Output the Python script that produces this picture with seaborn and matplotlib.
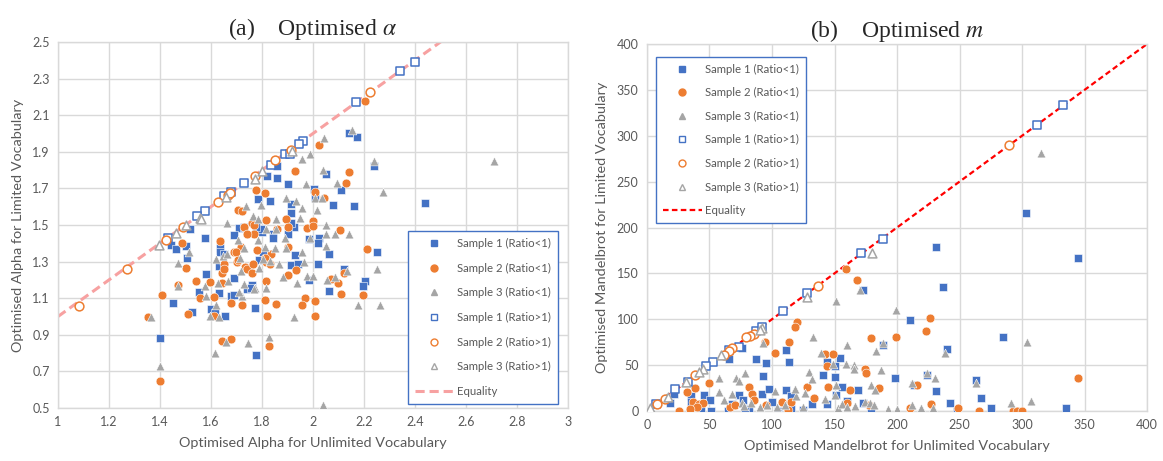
import matplotlib
matplotlib.use("Agg")
import matplotlib.pyplot as plt
import seaborn as sns
import numpy as np
from matplotlib.lines import Line2D

# ---------------- data: panel (a) Optimised alpha ----------------
a_s1_hi_x = [2.40, 2.34, 2.17, 1.96, 1.945, 1.89, 1.91, 1.836, 1.73, 1.68, 1.65, 1.578, 1.546, 1.43]
a_s1_hi_y = [2.39, 2.34, 2.17, 1.96, 1.94, 1.89, 1.89, 1.83, 1.73, 1.68, 1.66, 1.576, 1.55, 1.43]
a_s2_hi_x = [1.083, 1.27, 1.425, 1.49, 1.628, 1.666, 1.675, 1.774, 1.852, 1.913, 2.224]
a_s2_hi_y = [1.058, 1.26, 1.42, 1.49, 1.624, 1.664, 1.672, 1.77, 1.853, 1.91, 2.225]
a_s3_hi_x = [1.396, 1.464, 1.50, 1.556, 1.56, 1.66, 1.774, 1.80, 1.916]
a_s3_hi_y = [1.39, 1.458, 1.50, 1.54, 1.53, 1.655, 1.75, 1.795, 1.904]

a_s1_lo_x = [2.14, 2.174, 2.238, 2.05, 1.86, 1.82, 1.858, 1.90, 2.003, 2.008, 2.11, 2.08, 2.161, 2.441,
             1.785, 1.83, 1.914, 1.913, 1.926, 1.914, 1.90, 1.845, 1.843, 1.80, 1.795, 1.778, 1.708,
             1.69, 1.73, 1.984, 2.023, 2.02, 1.518, 1.577, 1.443, 1.464, 1.50, 1.505, 1.636, 1.637,
             1.631, 1.805, 1.788, 1.929, 1.914, 1.94, 2.02, 2.064, 2.123, 2.25, 2.205, 2.195, 2.062,
             1.985, 1.692, 1.762, 1.74, 1.756, 1.68, 1.69, 1.582, 1.553, 1.63, 1.451, 1.527, 1.60,
             1.653, 1.774, 1.40, 1.775, 1.614, 1.65]
a_s1_lo_y = [2.00, 1.98, 1.82, 1.78, 1.82, 1.765, 1.756, 1.725, 1.695, 1.65, 1.69, 1.61, 1.604, 1.622,
             1.64, 1.63, 1.613, 1.564, 1.49, 1.513, 1.45, 1.45, 1.43, 1.46, 1.48, 1.49, 1.485,
             1.447, 1.49, 1.425, 1.43, 1.40, 1.48, 1.427, 1.39, 1.37, 1.385, 1.32, 1.376, 1.35,
             1.276, 1.35, 1.31, 1.334, 1.282, 1.285, 1.285, 1.34, 1.258, 1.35, 1.195, 1.164, 1.138,
             1.20, 1.21, 1.173, 1.149, 1.156, 1.113, 1.118, 1.233, 1.136, 1.131, 1.073, 1.022, 1.04,
             1.00, 1.044, 0.884, 0.789, 1.02, 1.34]

a_s2_lo_x = [2.203, 2.022, 1.929, 2.14, 2.128, 1.775, 1.81, 2.006, 2.044, 1.704, 1.72, 1.817, 1.894,
             2.0, 1.977, 2.0, 1.90, 1.73, 1.76, 1.77, 1.768, 1.74, 2.107, 1.858, 1.636, 1.485, 1.717,
             1.782, 1.90, 1.69, 1.698, 1.70, 1.705, 1.65, 1.643, 1.65, 1.733, 1.74, 1.76, 1.766,
             1.836, 1.817, 1.81, 1.833, 1.933, 1.90, 1.50, 1.541, 1.595, 1.643, 1.817, 2.097, 2.07,
             2.12, 2.212, 1.472, 1.406, 1.557, 1.611, 1.68, 1.72, 1.81, 1.856, 1.968, 1.957, 2.009,
             2.11, 2.196, 1.353, 1.51, 1.61, 1.82, 2.009, 1.642, 1.68, 1.827, 1.40]
a_s2_lo_y = [2.18, 1.935, 1.795, 1.79, 1.73, 1.69, 1.676, 1.68, 1.65, 1.584, 1.575, 1.525, 1.53,
             1.52, 1.485, 1.495, 1.487, 1.49, 1.51, 1.50, 1.453, 1.45, 1.47, 1.476, 1.41, 1.40, 1.38,
             1.364, 1.382, 1.35, 1.35, 1.295, 1.31, 1.285, 1.24, 1.262, 1.273, 1.262, 1.24, 1.285,
             1.34, 1.295, 1.32, 1.285, 1.255, 1.225, 1.264, 1.196, 1.19, 1.185, 1.195, 1.185, 1.204,
             1.24, 1.37, 1.173, 1.12, 1.10, 1.104, 1.076, 1.064, 1.09, 1.069, 1.10, 1.064, 1.082,
             1.122, 1.116, 0.998, 1.014, 1.0, 1.0, 1.0, 0.867, 0.875, 0.838, 0.649]

a_s3_lo_x = [2.152, 2.045, 1.955, 1.99, 2.238, 2.711, 2.04, 2.093, 1.972, 2.276, 2.006, 2.036, 1.894,
             1.933, 1.955, 2.015, 1.797, 1.737, 1.663, 1.765, 1.785, 1.853, 1.948, 2.049, 2.049, 2.087,
             2.14, 1.988, 1.89, 1.856, 1.817, 1.785, 1.705, 1.81, 1.73, 1.85, 1.893, 2.049, 1.515,
             1.618, 1.646, 1.662, 1.715, 1.802, 1.832, 1.866, 1.958, 1.964, 1.469, 1.718, 1.788, 1.882,
             1.936, 1.977, 2.0, 2.054, 2.086, 2.134, 2.25, 1.665, 1.73, 1.774, 1.817, 1.628, 1.578,
             1.472, 1.582, 1.618, 1.72, 1.77, 1.71, 1.364, 1.595, 1.631, 1.926, 2.176, 2.261, 1.829,
             1.657, 1.746, 1.614, 1.40, 2.038]
a_s3_lo_y = [2.02, 1.976, 1.862, 1.89, 1.85, 1.847, 1.80, 1.73, 1.725, 1.68, 1.65, 1.645, 1.647,
             1.63, 1.595, 1.58, 1.607, 1.604, 1.51, 1.55, 1.535, 1.535, 1.538, 1.498, 1.45, 1.45,
             1.45, 1.43, 1.43, 1.476, 1.476, 1.42, 1.42, 1.38, 1.376, 1.376, 1.376, 1.385, 1.35,
             1.316, 1.33, 1.34, 1.32, 1.316, 1.304, 1.285, 1.35, 1.30, 1.294, 1.25, 1.267, 1.213,
             1.185, 1.222, 1.222, 1.198, 1.213, 1.25, 1.262, 1.195, 1.176, 1.158, 1.158, 1.185, 1.164,
             1.164, 1.113, 1.064, 1.113, 1.15, 1.133, 0.998, 1.004, 0.995, 0.998, 1.064, 1.064, 0.887,
             0.858, 0.855, 0.80, 0.731, 0.518]

eq_a = [1.0, 3.0]

# ---------------- data: panel (b) Optimised m ----------------
m_s1_hi_x = [333, 312, 189, 171.5, 127.6, 108.6, 87, 92, 74, 66, 53, 47.5, 32.6, 22.8, 7.4]
m_s1_hi_y = [334, 312, 188, 172, 128.6, 109.4, 87.7, 91, 69.6, 66.7, 53, 48.5, 31.5, 24.3, 8]
m_s2_hi_x = [289.3, 137, 85.5, 82.5, 79.2, 68.2, 65.3, 61.4, 38.6, 14.2, 8.3]
m_s2_hi_y = [289.9, 136.6, 84, 82, 80.4, 68.5, 64.9, 61.2, 38.8, 13.4, 8]
m_s3_hi_x = [180, 128, 92, 90.5, 59.3, 44.5, 42, 31, 17, 2.4]
m_s3_hi_y = [172, 124.6, 90.6, 88.4, 60.5, 46, 42.4, 31.5, 15.2, 3.3]

m_s1_lo_x = [303, 231, 344.5, 237, 172.7, 210, 285, 189, 240, 111, 66, 87.5, 95, 113.6, 154, 144, 150,
             75.7, 92.6, 141, 150, 198, 224, 263.5, 156, 168.5, 213.6, 231, 267, 242.7, 275, 335, 248,
             22, 18.7, 35, 35.6, 46, 50.4, 51, 43, 65, 68, 74, 77, 82, 92, 98, 100, 104.5, 111, 115,
             115, 125, 132, 144, 151, 160, 173, 179.5, 78.6]
m_s1_lo_y = [215.6, 179, 167, 135.5, 132, 99, 81, 72, 67.4, 66, 56.5, 56.5, 52.5, 53.3, 57.6, 53.3, 48.5,
             68.8, 37.7, 39.5, 37, 35.9, 39.5, 33.3, 25.7, 22.8, 27.9, 21.7, 14.5, 8.7, 3.6, 2.9, 0,
             18, 8.7, 16, 9.8, 17.8, 12.3, 0, 3.6, 0, 8, 17, 11.6, 2.5, 19, 24.3, 9.8, 0, 22.5, 16,
             1.8, 1.4, 7.2, 8, 17, 10.9, 9, 0, 0]

m_s2_lo_x = [158.8, 167.7, 226.4, 223.4, 120, 118, 94.4, 113.6, 102.4, 179.5, 199, 142.4, 149, 144, 174,
             175, 50, 38.6, 31.7, 81.6, 83.7, 128, 144.5, 162.6, 185.5, 216, 344.5, 133.5, 115, 107.7,
             86, 37, 41.5, 44.5, 40, 34.7, 26, 66.8, 70.3, 95, 113, 160, 177.4, 227, 210.7, 249,
             265.6, 293, 296, 300]
m_s2_lo_y = [154.3, 142.8, 101.4, 87.3, 96.7, 91.3, 75.7, 75.7, 63, 79.3, 80.4, 62.3, 62.3, 48.5, 45.3,
             41.3, 30.4, 25, 20.7, 26, 18.8, 26, 25.7, 22.5, 25, 28.6, 35.5, 14.5, 9.8, 9.8,
             11.6, 9.8, 8, 9, 4.3, 2.5, 0, 4, 6.9, 6.9, 1.4, 8.7, 6.2, 8, 3.3, 3.3,
             0, 0, 0, 0]

m_s3_lo_x = [315, 170, 151, 199, 133, 304, 160, 189, 183, 238, 139.5, 92.6, 58, 78.6, 71, 74, 129.7, 132,
             158.8, 165.6, 165.6, 149, 187, 224, 230.6, 263.5, 179.5, 182.5, 212, 291, 307, 193, 200,
             219, 228.5, 212, 15.4, 58, 61.7, 68, 75.7, 77.7, 83, 90.5, 96.4, 102.4, 104, 110.7, 119,
             126.7, 124.6, 142.4, 153, 156, 160, 166, 174.5, 178, 181.6, 150, 151, 118]
m_s3_lo_y = [281.5, 132, 120, 110, 80.4, 75.7, 72, 74.6, 65, 63.4, 63, 74, 36, 41.3, 36, 32.6, 42.4, 34.4,
             51.4, 49.6, 46, 50.7, 45, 41.7, 35.9, 30.4, 28, 22.5, 30.4, 8.7, 10.9, 2.5, 2.5,
             3.3, 3.3, 6.2, 15.2, 20.6, 12.3, 18.8, 9, 5, 8.7, 4.3, 6.2, 21.7, 4.3, 6.9, 16,
             19.6, 4.3, 13.4, 3.3, 8, 4.3, 5.4, 9.8, 8.7, 6.2, 17, 28, 24.3]

eq_m = [0.0, 400.0]

series_labels = ["Sample 1 (Ratio<1)", "Sample 2 (Ratio<1)", "Sample 3 (Ratio<1)",
                 "Sample 1 (Ratio>1)", "Sample 2 (Ratio>1)", "Sample 3 (Ratio>1)", "Equality"]

a_xticks = [1, 1.2, 1.4, 1.6, 1.8, 2, 2.2, 2.4, 2.6, 2.8, 3]
a_yticks = [0.5, 0.7, 0.9, 1.1, 1.3, 1.5, 1.7, 1.9, 2.1, 2.3, 2.5]
m_ticks = [0, 50, 100, 150, 200, 250, 300, 350, 400]

# ---------------- styling ----------------
sns.set_theme(style="white")
plt.rcParams["font.family"] = ["Lato", "DejaVu Sans"]
plt.rcParams["mathtext.fontset"] = "stix"

BLUE = "#4472C4"
ORANGE = "#ED7D31"
GREY = "#A5A5A5"
TXT = "#595959"
GRID = "#D9D9D9"

fig = plt.figure(figsize=(11.63, 4.61), dpi=100)
axA = fig.add_axes([0.0499, 0.115, 0.4385, 0.794])
axB = fig.add_axes([0.5563, 0.1085, 0.430, 0.796])

MS = 40


def draw(ax, s1lo, s2lo, s3lo, s1hi, s2hi, s3hi, eq, eqcolor, eqlw, eqdash):
    filled = [(s1lo, "s", BLUE), (s2lo, "o", ORANGE), (s3lo, "^", GREY)]
    opened = [(s1hi, "s", BLUE), (s2hi, "o", ORANGE), (s3hi, "^", GREY)]
    sns.lineplot(x=eq, y=eq, ax=ax, color=eqcolor, linewidth=eqlw, dashes=False, zorder=2)
    ax.lines[-1].set_dashes(eqdash)
    for (xy, mk, c) in filled:
        sns.scatterplot(x=xy[0], y=xy[1], ax=ax, marker=mk, s=MS, color=c,
                        edgecolor="white", linewidth=0.4, zorder=3)
    for (xy, mk, c) in opened:
        sns.scatterplot(x=xy[0], y=xy[1], ax=ax, marker=mk, s=MS, facecolor="white",
                        edgecolor=c, linewidth=1.1, zorder=4)
    handles = []
    for (xy, mk, c) in filled:
        handles.append(Line2D([], [], linestyle="none", marker=mk, markersize=5,
                              markerfacecolor=c, markeredgecolor=c))
    for (xy, mk, c) in opened:
        handles.append(Line2D([], [], linestyle="none", marker=mk, markersize=5,
                              markerfacecolor="white", markeredgecolor=c, markeredgewidth=1.0))
    handles.append(Line2D([], [], color=eqcolor, linewidth=eqlw, dashes=eqdash))
    return handles


hA = draw(axA, (a_s1_lo_x, a_s1_lo_y), (a_s2_lo_x, a_s2_lo_y), (a_s3_lo_x, a_s3_lo_y),
          (a_s1_hi_x, a_s1_hi_y), (a_s2_hi_x, a_s2_hi_y), (a_s3_hi_x, a_s3_hi_y),
          eq_a, "#F7A1A1", 2.2, (3, 1.6))
hB = draw(axB, (m_s1_lo_x, m_s1_lo_y), (m_s2_lo_x, m_s2_lo_y), (m_s3_lo_x, m_s3_lo_y),
          (m_s1_hi_x, m_s1_hi_y), (m_s2_hi_x, m_s2_hi_y), (m_s3_hi_x, m_s3_hi_y),
          eq_m, "#FF0000", 1.6, (2.5, 1.5))

for ax, xt, yt, xl, yl, xlab, ylab in [
    (axA, a_xticks, a_yticks, (1, 3), (0.5, 2.5),
     "Optimised Alpha for Unlimited Vocabulary", "Optimised Alpha for Limited Vocabulary"),
    (axB, m_ticks, m_ticks, (0, 400), (0, 400),
     "Optimised Mandelbrot for Unlimited Vocabulary", "Optimised Mandelbrot for Limited Vocabulary"),
]:
    ax.set_xlim(*xl)
    ax.set_ylim(*yl)
    ax.set_xticks(xt)
    ax.set_yticks(yt)
    ax.set_xticklabels([f"{v:g}" for v in xt])
    ax.set_yticklabels([f"{v:g}" for v in yt])
    ax.grid(True, color=GRID, linewidth=1.0)
    ax.set_axisbelow(True)
    for sp in ax.spines.values():
        sp.set_color(GRID)
        sp.set_linewidth(1.0)
    ax.tick_params(length=0, labelsize=9, labelcolor=TXT, pad=6)
    ax.set_xlabel(xlab, fontsize=10.4, color=TXT, labelpad=6)
    ax.set_ylabel(ylab, fontsize=10.4, color=TXT, labelpad=6)

axA.set_title(r"(a)    Optimised $\alpha$", fontsize=17, family="Liberation Serif", pad=5)
axB.set_title(r"(b)    Optimised $m$", fontsize=17, family="Liberation Serif", pad=5)

legkw = dict(fontsize=8.2, frameon=True, fancybox=False, edgecolor=BLUE, framealpha=1,
             handlelength=3.4, handletextpad=0.3, borderpad=0.6,
             borderaxespad=0, labelcolor=TXT)
legA = axA.legend(hA, series_labels, loc="lower right", bbox_to_anchor=(0.98, 0.011),
                  labelspacing=1.2, **legkw)
legB = axB.legend(hB, series_labels, loc="upper left", bbox_to_anchor=(0.018, 0.965),
                  labelspacing=1.1, **legkw)
for lg in (legA, legB):
    lg.get_frame().set_linewidth(1.0)

fig.savefig("out.png", dpi=100)
